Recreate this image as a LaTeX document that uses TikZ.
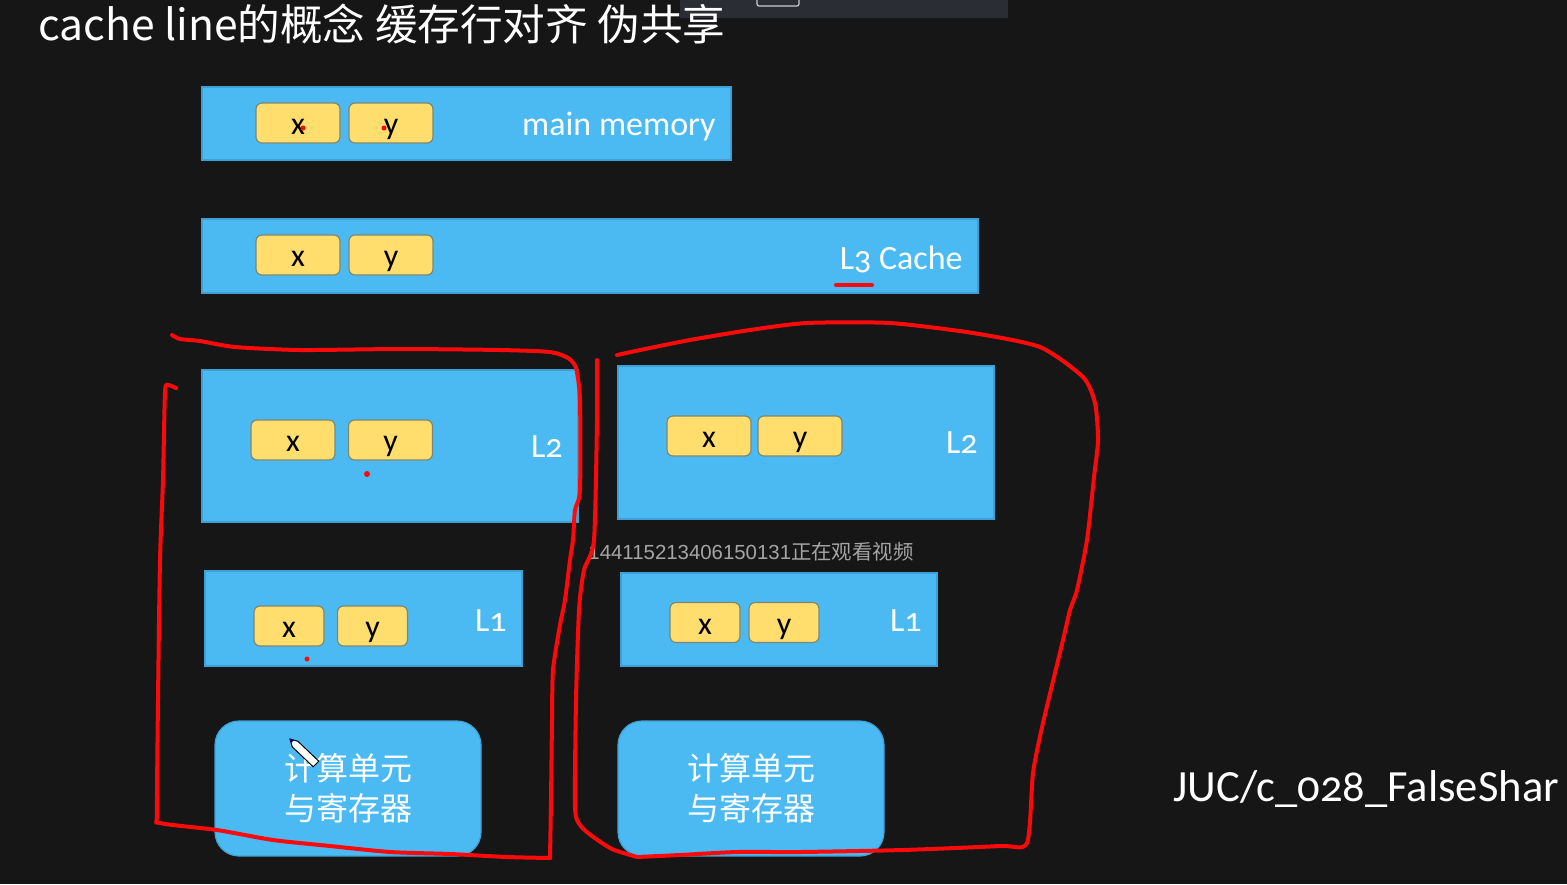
\documentclass[tikz,border=0pt]{standalone}
\usepackage{fontspec}
\setmainfont{Carlito}
\newfontfamily\calib[Numbers=OldStyle]{Carlito}
\newfontfamily\cjk{Noto Sans CJK SC}
\newfontfamily\wmfont{Liberation Sans}
\definecolor{bg}{RGB}{22,22,22}
\definecolor{topbar}{RGB}{42,45,51}
\definecolor{boxblue}{RGB}{76,186,242}
\definecolor{boxedge}{RGB}{62,160,212}
\definecolor{cellyellow}{RGB}{255,222,110}
\definecolor{celledge}{RGB}{125,135,115}
\definecolor{inkred}{RGB}{250,10,10}
\definecolor{wmgray}{RGB}{165,165,165}
\begin{document}
\begin{tikzpicture}[x=0.5pt,y=-0.5pt,
  blk/.style={draw=boxedge, fill=boxblue, line width=0.6pt, inner sep=0pt},
  cellbox/.style={draw=celledge, fill=cellyellow, rounded corners=3pt, line width=0.6pt,
    minimum width=42pt, minimum height=20pt, inner sep=0pt, text=black,
    text height=11.5pt, text depth=0pt, font=\calib\fontsize{16}{16}\selectfont},
  smallcell/.style={cellbox, minimum width=35pt},
  lbl/.style={text=white, inner sep=0pt, anchor=base east, font=\calib\fontsize{17}{17}\selectfont},
  cu/.style={fill=boxblue, draw=boxedge, line width=0.6pt, rounded corners=12pt,
    minimum width=133pt, minimum height=67.5pt, inner sep=0pt, align=center,
    text=white, font=\cjk\fontsize{16}{20}\selectfont},
  redink/.style={draw=inkred, line width=2pt, line cap=round, line join=round},
  reddot/.style={fill=inkred, draw=none}
]
% background and frame
\useasboundingbox (0,0) rectangle (1567,884);
\fill[bg] (0,0) rectangle (1567,884);
\fill[topbar] (680,0) rectangle (1008,18);
\draw[white!80!black, line width=0.6pt, rounded corners=1pt] (757,-4) rectangle (799,6);

% title
\node[anchor=base west, inner sep=0pt, text=white, font=\cjk\fontsize{21.3}{21.3}\selectfont]
  (title) at (38,40) {cache line的概念 缓存行对齐 伪共享};

% main memory
\node[blk, minimum width=264.5pt, minimum height=36.5pt] (mem) at (466.5,123.5) {};
\node[cellbox] (memx) at (298,123) {x};
\node[cellbox] (memy) at (391,123) {y};
\node[lbl] (memlbl) at (716,135) {main memory};

% L3
\node[blk, minimum width=388pt, minimum height=37pt] (l3) at (590,256) {};
\node[cellbox] (l3x) at (298,255) {x};
\node[cellbox] (l3y) at (391,255) {y};
\node[lbl] (l3lbl) at (963,269) {L3 Cache};

% L2 left / right
\node[blk, minimum width=188pt, minimum height=76pt] (l2a) at (390,446) {};
\node[cellbox] (l2ax) at (293,440) {x};
\node[cellbox] (l2ay) at (390.5,440) {y};
\node[lbl] (l2albl) at (563,457) {L2};

\node[blk, minimum width=188pt, minimum height=76.5pt] (l2b) at (806,442.5) {};
\node[cellbox] (l2bx) at (709,436) {x};
\node[cellbox] (l2by) at (800,436) {y};
\node[lbl] (l2blbl) at (978,453) {L2};

% L1 left / right
\node[blk, minimum width=158.5pt, minimum height=47.5pt] (l1a) at (363.5,618.5) {};
\node[smallcell] (l1ax) at (289,626) {x};
\node[smallcell] (l1ay) at (372.5,626) {y};
\node[lbl] (l1albl) at (507,631) {L1};

\node[blk, minimum width=158pt, minimum height=46.5pt] (l1b) at (779,619.5) {};
\node[smallcell] (l1bx) at (705,622.5) {x};
\node[smallcell] (l1by) at (784,622.5) {y};
\node[lbl] (l1blbl) at (922,631) {L1};

% compute units
\node[cu] (cua) at (348,788.5) {计算单元\\与寄存器};
\node[cu] (cub) at (751,788.5) {计算单元\\与寄存器};

% watermark
\node[text=wmgray, inner sep=0pt, font=\fontsize{10.2}{10.2}\selectfont] (wm) at (751,552)
  {\wmfont 144115213406150131\cjk 正在观看视频};

% side label
\node[anchor=base west, inner sep=0pt, text=white, font=\calib\fontsize{22.3}{22.3}\selectfont]
  (juc) at (1173,801) {JUC/c\_028\_FalseShar};

% red annotations
\draw[redink] (836,285) -- (872,285);
\fill[reddot] (303,128) circle (2.5);
\fill[reddot] (384,128) circle (2.5);
\fill[reddot] (367,474) circle (3);
\fill[reddot] (307,659) circle (2.5);

\draw[redink] plot[smooth, tension=0.4] coordinates {(172,335) (180,339) (200,341) (235,347) (300,350)
  (400,349) (500,350) (550,352) (568,358) (576,368) (580,400) (580,490) (575,510) (573,540)
  (570,560) (565,600) (560,625) (553,670) (552,720) (551,800) (550,858)};
\draw[redink] plot[smooth, tension=0.4] coordinates {(176,388) (168,385) (165,392) (163,480) (160,560)
  (158,700) (157,813) (160,823) (217,830) (273,840) (330,846) (390,852) (450,854) (507,857) (550,858)};

\draw[redink] plot[smooth, tension=0.4] coordinates {(617,355) (650,348) (690,340) (750,330) (807,323)
  (890,323) (973,333) (1040,347) (1083,377) (1095,403) (1098,440) (1094,477) (1087,540) (1077,590)
  (1070,610) (1063,640) (1043,723) (1033,773) (1027,843) (1000,846) (903,850) (800,852) (737,852)
  (680,855) (637,857)};
\draw[redink] plot[smooth, tension=0.4] coordinates {(597,360) (597,420) (594,540) (584,570) (579,610)
  (576,700) (575,807) (580,825) (592,836) (612,849) (637,857)};

% pencil cursor
\draw[black, line width=0.5pt, fill=white] (290,739) -- (297.8,741.2) -- (318.8,761.2) -- (313.2,766.8) -- (292.2,746.8) -- cycle;
\fill[blue!60!black] (290,739) -- (294,740) -- (291,743) -- cycle;
\end{tikzpicture}
\end{document}
